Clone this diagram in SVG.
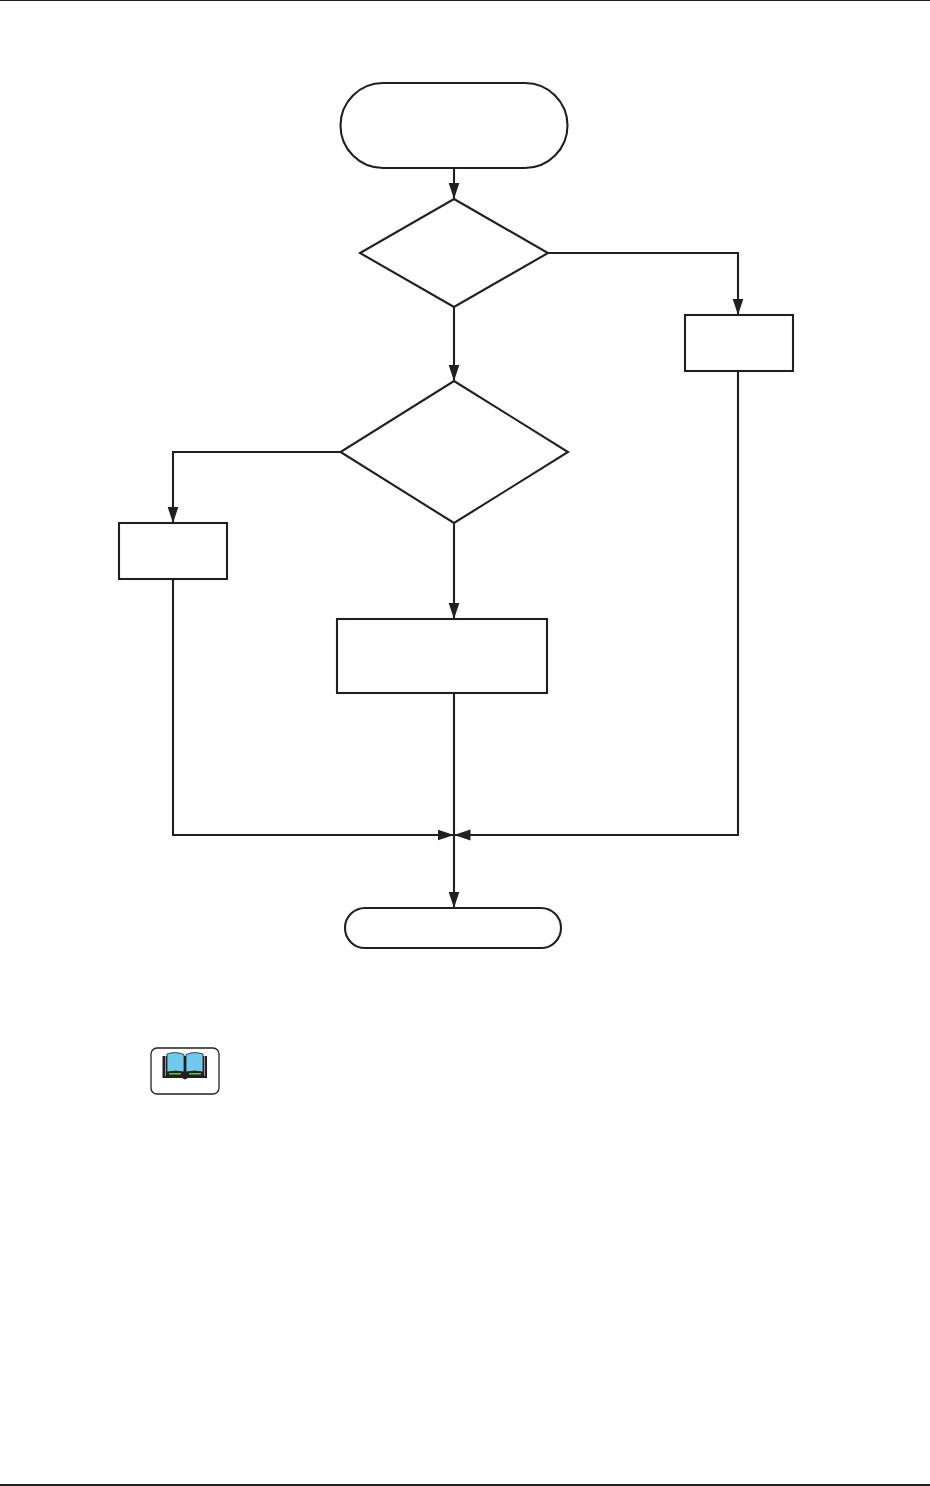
<svg xmlns="http://www.w3.org/2000/svg" width="930" height="1486" viewBox="0 0 930 1486">
<style>
.s{fill:#fff;stroke:#231f20;stroke-width:2.1}
.c{fill:none;stroke:#231f20;stroke-width:2.1}
.rule{stroke:#231f20;stroke-width:2}
</style>
<defs>
<marker id="a" markerUnits="userSpaceOnUse" markerWidth="17" markerHeight="12" refX="16.500" refY="6" orient="auto"><path d="M0 0.500L16.500 6L0 11.500Z" fill="#231f20"/></marker>
</defs>
<rect width="930" height="1486" fill="#fff"/>
<line class="rule" x1="0" y1="0" x2="930" y2="0"/>
<line class="rule" x1="0" y1="1485" x2="930" y2="1485"/>
<g id="connectors">
<path class="c" d="M454 168V199" marker-end="url(#a)"/>
<path class="c" d="M454 307V381" marker-end="url(#a)"/>
<path class="c" d="M548 253H738V315" marker-end="url(#a)"/>
<path class="c" d="M341 452H173V523" marker-end="url(#a)"/>
<path class="c" d="M454 523V619" marker-end="url(#a)"/>
<path class="c" d="M173 579V835H454" marker-end="url(#a)"/>
<path class="c" d="M738 371V835H454" marker-end="url(#a)"/>
<path class="c" d="M454 693V908" marker-end="url(#a)"/>
</g>
<g id="start"><rect class="s" x="340.500" y="83" width="227" height="85" rx="42.500"/></g>
<g id="decision1"><path class="s" d="M454 199L548 253L454 307L360 253Z"/></g>
<g id="decision2"><path class="s" d="M454 381L568 452L454 523L340.500 452Z"/></g>
<g id="boxRight"><rect class="s" x="685" y="315" width="108" height="56"/></g>
<g id="boxLeft"><rect class="s" x="119" y="523" width="108" height="56"/></g>
<g id="boxCenter"><rect class="s" x="337" y="619" width="210" height="74"/></g>
<g id="end"><rect class="s" x="345" y="908" width="216" height="40" rx="20"/></g>
<g id="bookIcon">
<rect x="151" y="1048" width="68" height="46" rx="6" fill="#fff" stroke="#231f20" stroke-width="1.3"/>
<path d="M162.500 1056H207V1078H188L185 1079.500L182 1078H162.500Z" fill="#231f20"/>
<path d="M165 1056H166V1076H165ZM204 1056H205V1076H204Z" fill="#9a9a9a"/>
<path d="M167 1054Q176 1051 184 1054.500V1072Q176 1070 167 1072Z" fill="#6fcbee" stroke="#231f20" stroke-width="0.8"/>
<path d="M203 1054Q194 1051 186 1054.500V1072Q194 1070 203 1072Z" fill="#6fcbee" stroke="#231f20" stroke-width="0.8"/>
<path d="M169 1073.700L181 1073.700M189 1073.700L201 1073.700" stroke="#6abd45" stroke-width="1.500" fill="none"/>
</g>
</svg>
